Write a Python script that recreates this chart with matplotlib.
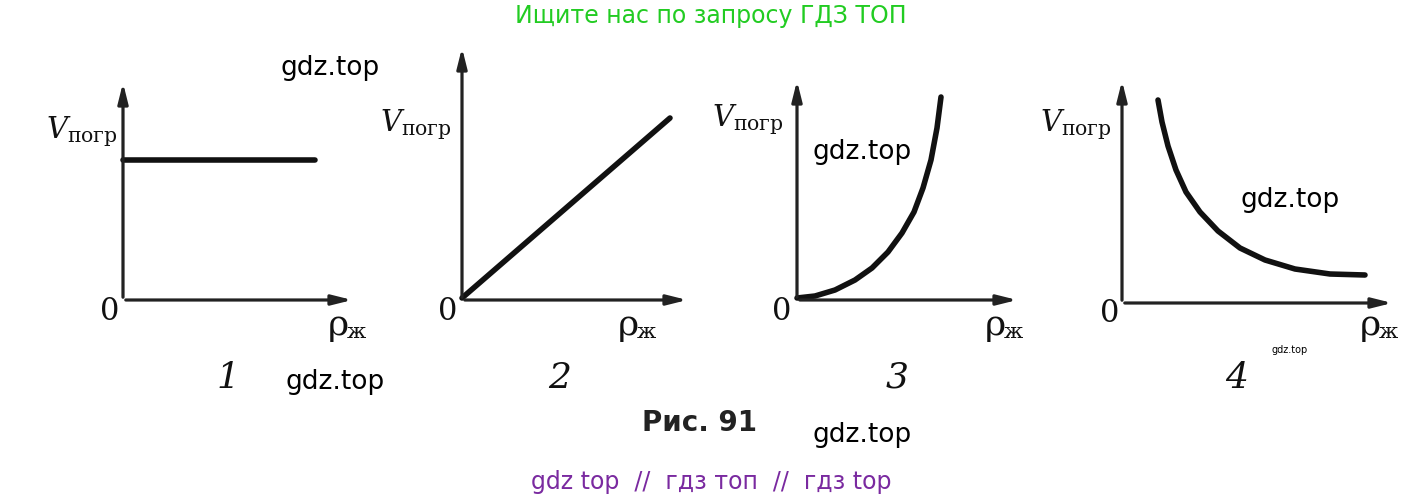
import matplotlib.pyplot as plt

plt.rcParams['mathtext.fontset'] = 'dejavuserif'

# curve points for the four small graphs (picture pixel coordinates)
g1_x = [123, 315]
g1_y = [160, 160]
g2_x = [462, 670]
g2_y = [298, 118]
g3_x = [797, 815, 835, 855, 872, 888, 902, 914, 923, 931, 937, 941]
g3_y = [298, 296, 290, 280, 268, 252, 233, 212, 188, 160, 128, 97]
g4_x = [1158, 1162, 1168, 1176, 1186, 1200, 1218, 1240, 1265, 1295, 1330, 1365]
g4_y = [100, 122, 146, 170, 192, 212, 231, 248, 260, 269, 274, 275]

# axes: (origin x, origin y, x arrow end, y arrow end)
axes_def = [(123, 300, 355, 80), (462, 300, 690, 45), (797, 300, 1020, 78), (1122, 303, 1395, 78)]
numbers = ['1', '2', '3', '4']
vpos = [(82, 132), (416, 125), (748, 120), (1076, 125)]
rhopos = [(338, 325), (628, 325), (995, 325), (1370, 325)]
numpos = [(228, 378), (560, 378), (897, 378), (1237, 378)]
zeropos = [(110, 312), (448, 312), (782, 312), (1110, 314)]

fig = plt.figure(figsize=(14.22, 5.01), dpi=100)
ax = fig.add_axes([0, 0, 1, 1])
ax.set_xlim(0, 1422)
ax.set_ylim(501, 0)
ax.axis('off')

for (ox, oy, xe, ye) in axes_def:
    ax.annotate('', xy=(xe, oy), xytext=(ox, oy),
                arrowprops=dict(arrowstyle='-|>,head_length=1.2,head_width=0.3', color='#222', lw=2.3))
    ax.annotate('', xy=(ox, ye), xytext=(ox, oy),
                arrowprops=dict(arrowstyle='-|>,head_length=1.2,head_width=0.3', color='#222', lw=2.3))

for xs, ys in [(g1_x, g1_y), (g2_x, g2_y), (g3_x, g3_y), (g4_x, g4_y)]:
    ax.plot(xs, ys, color='#111', lw=4, solid_capstyle='round', solid_joinstyle='round')

for i in range(4):
    ax.text(*vpos[i], r'$V_{\mathrm{погр}}$', fontsize=21, ha='center', va='center', color='#111')
    ax.text(*rhopos[i], 'ρ', fontsize=26, ha='center', va='center', family='DejaVu Serif', color='#111')
    ax.text(rhopos[i][0] + 18, rhopos[i][1] + 8, 'ж', fontsize=15, ha='center', va='center', family='DejaVu Serif', color='#111')
    ax.text(*numpos[i], numbers[i], fontsize=26, ha='center', va='center', family='DejaVu Serif', style='italic', color='#111')
    ax.text(*zeropos[i], '0', fontsize=22, ha='center', va='center', family='DejaVu Serif', color='#111')

ax.text(700, 423, 'Рис. 91', fontsize=20, weight='bold', ha='center', va='center', color='#222')

ax.text(711, 16, 'Ищите нас по запросу ГДЗ ТОП', fontsize=17, color='#22cc22', ha='center', va='center')
ax.text(711, 482, 'gdz top  //  гдз топ  //  гдз top', fontsize=17, color='#7a2aa0', ha='center', va='center')
for (x, y) in [(330, 68), (335, 382), (862, 152), (1290, 200), (862, 435)]:
    ax.text(x, y, 'gdz.top', fontsize=19, ha='center', va='center', color='black')
ax.text(1290, 350, 'gdz.top', fontsize=7, ha='center', va='center', color='black')

fig.savefig('out.png', dpi=100)
